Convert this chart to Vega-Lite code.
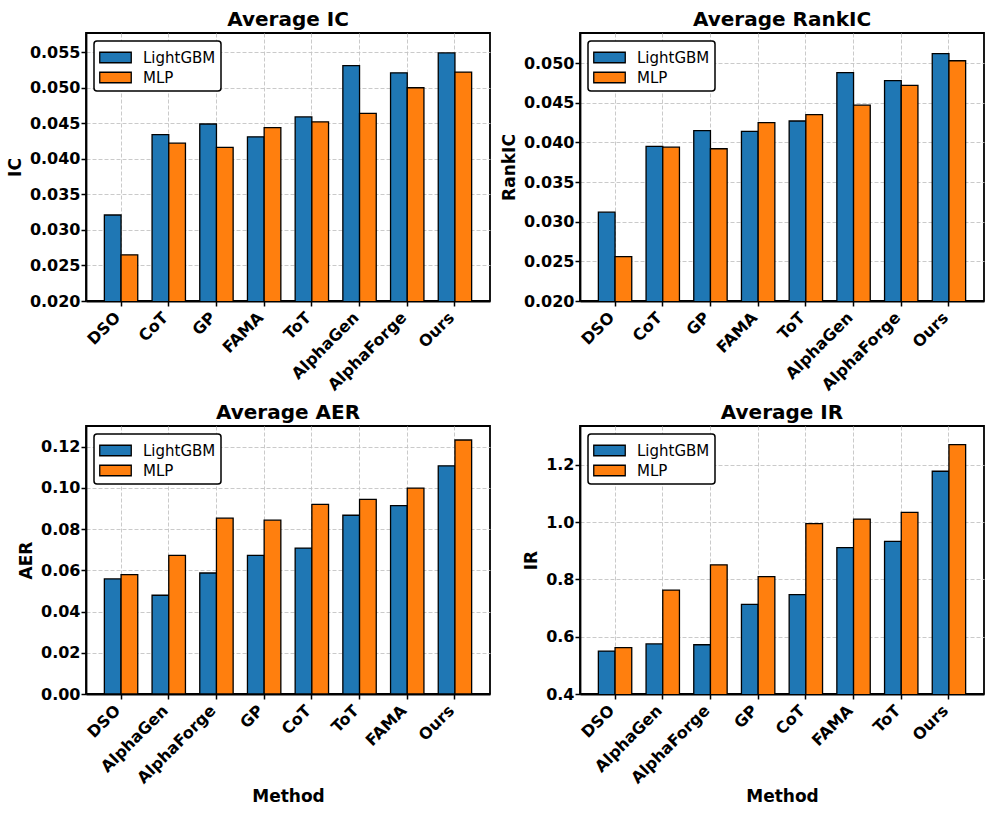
{
  "$schema": "https://vega.github.io/schema/vega-lite/v6.json",
  "padding": {"left": 5, "top": 9, "right": 4, "bottom": 8},
  "background": "white",
  "datasets": {
    "ic": [
      {"method": "DSO", "model": "LightGBM", "value": 0.0321}, {"method": "DSO", "model": "MLP", "value": 0.0265},
      {"method": "CoT", "model": "LightGBM", "value": 0.0434}, {"method": "CoT", "model": "MLP", "value": 0.0422},
      {"method": "GP", "model": "LightGBM", "value": 0.0449}, {"method": "GP", "model": "MLP", "value": 0.0416},
      {"method": "FAMA", "model": "LightGBM", "value": 0.0431}, {"method": "FAMA", "model": "MLP", "value": 0.0444},
      {"method": "ToT", "model": "LightGBM", "value": 0.0459}, {"method": "ToT", "model": "MLP", "value": 0.0452},
      {"method": "AlphaGen", "model": "LightGBM", "value": 0.0531}, {"method": "AlphaGen", "model": "MLP", "value": 0.0464},
      {"method": "AlphaForge", "model": "LightGBM", "value": 0.0521}, {"method": "AlphaForge", "model": "MLP", "value": 0.0500},
      {"method": "Ours", "model": "LightGBM", "value": 0.0549}, {"method": "Ours", "model": "MLP", "value": 0.0522}
    ],
    "rankic": [
      {"method": "DSO", "model": "LightGBM", "value": 0.0312}, {"method": "DSO", "model": "MLP", "value": 0.0256},
      {"method": "CoT", "model": "LightGBM", "value": 0.0395}, {"method": "CoT", "model": "MLP", "value": 0.0394},
      {"method": "GP", "model": "LightGBM", "value": 0.0415}, {"method": "GP", "model": "MLP", "value": 0.0392},
      {"method": "FAMA", "model": "LightGBM", "value": 0.0414}, {"method": "FAMA", "model": "MLP", "value": 0.0425},
      {"method": "ToT", "model": "LightGBM", "value": 0.0427}, {"method": "ToT", "model": "MLP", "value": 0.0435},
      {"method": "AlphaGen", "model": "LightGBM", "value": 0.0488}, {"method": "AlphaGen", "model": "MLP", "value": 0.0447},
      {"method": "AlphaForge", "model": "LightGBM", "value": 0.0478}, {"method": "AlphaForge", "model": "MLP", "value": 0.0472},
      {"method": "Ours", "model": "LightGBM", "value": 0.0512}, {"method": "Ours", "model": "MLP", "value": 0.0503}
    ],
    "aer": [
      {"method": "DSO", "model": "LightGBM", "value": 0.0558}, {"method": "DSO", "model": "MLP", "value": 0.0579},
      {"method": "AlphaGen", "model": "LightGBM", "value": 0.0479}, {"method": "AlphaGen", "model": "MLP", "value": 0.0672},
      {"method": "AlphaForge", "model": "LightGBM", "value": 0.0587}, {"method": "AlphaForge", "model": "MLP", "value": 0.0853},
      {"method": "GP", "model": "LightGBM", "value": 0.0672}, {"method": "GP", "model": "MLP", "value": 0.0843},
      {"method": "CoT", "model": "LightGBM", "value": 0.0708}, {"method": "CoT", "model": "MLP", "value": 0.0920},
      {"method": "ToT", "model": "LightGBM", "value": 0.0867}, {"method": "ToT", "model": "MLP", "value": 0.0944},
      {"method": "FAMA", "model": "LightGBM", "value": 0.0914}, {"method": "FAMA", "model": "MLP", "value": 0.0999},
      {"method": "Ours", "model": "LightGBM", "value": 0.1107}, {"method": "Ours", "model": "MLP", "value": 0.1232}
    ],
    "ir": [
      {"method": "DSO", "model": "LightGBM", "value": 0.550}, {"method": "DSO", "model": "MLP", "value": 0.562},
      {"method": "AlphaGen", "model": "LightGBM", "value": 0.575}, {"method": "AlphaGen", "model": "MLP", "value": 0.763},
      {"method": "AlphaForge", "model": "LightGBM", "value": 0.572}, {"method": "AlphaForge", "model": "MLP", "value": 0.851},
      {"method": "GP", "model": "LightGBM", "value": 0.713}, {"method": "GP", "model": "MLP", "value": 0.810},
      {"method": "CoT", "model": "LightGBM", "value": 0.747}, {"method": "CoT", "model": "MLP", "value": 0.995},
      {"method": "FAMA", "model": "LightGBM", "value": 0.911}, {"method": "FAMA", "model": "MLP", "value": 1.011},
      {"method": "ToT", "model": "LightGBM", "value": 0.933}, {"method": "ToT", "model": "MLP", "value": 1.034},
      {"method": "Ours", "model": "LightGBM", "value": 1.178}, {"method": "Ours", "model": "MLP", "value": 1.271}
    ]
  },
  "columns": 2,
  "spacing": {"column": 8, "row": 7},
  "resolve": {"scale": {"color": "independent", "x": "independent", "y": "independent"}, "legend": {"color": "independent"}},
  "concat": [
    {
      "width": 404, "height": 268,
      "title": "Average IC",
      "data": {"name": "ic"},
      "mark": {"type": "bar", "stroke": "black", "strokeWidth": 1.3, "clip": true},
      "encoding": {
        "x": {"field": "method", "type": "nominal", "sort": ["DSO", "CoT", "GP", "FAMA", "ToT", "AlphaGen", "AlphaForge", "Ours"], "title": null, "scale": {"paddingInner": 0.3, "paddingOuter": 0.385}},
        "xOffset": {"field": "model", "type": "nominal", "scale": {"paddingInner": 0, "paddingOuter": 0}},
        "y": {"field": "value", "type": "quantitative", "title": "IC", "scale": {"domain": [0.02, 0.0577], "nice": false, "zero": false}, "axis": {"values": [0.02, 0.025, 0.03, 0.035, 0.04, 0.045, 0.05, 0.055], "format": ".3f"}},
        "color": {"field": "model", "type": "nominal", "scale": {"domain": ["LightGBM", "MLP"], "range": ["#1f77b4", "#ff7f0e"]}, "legend": {"title": null}}
      }
    },
    {
      "width": 404, "height": 268,
      "title": "Average RankIC",
      "data": {"name": "rankic"},
      "mark": {"type": "bar", "stroke": "black", "strokeWidth": 1.3, "clip": true},
      "encoding": {
        "x": {"field": "method", "type": "nominal", "sort": ["DSO", "CoT", "GP", "FAMA", "ToT", "AlphaGen", "AlphaForge", "Ours"], "title": null, "scale": {"paddingInner": 0.3, "paddingOuter": 0.385}},
        "xOffset": {"field": "model", "type": "nominal", "scale": {"paddingInner": 0, "paddingOuter": 0}},
        "y": {"field": "value", "type": "quantitative", "title": "RankIC", "scale": {"domain": [0.02, 0.0538], "nice": false, "zero": false}, "axis": {"values": [0.02, 0.025, 0.03, 0.035, 0.04, 0.045, 0.05], "format": ".3f"}},
        "color": {"field": "model", "type": "nominal", "scale": {"domain": ["LightGBM", "MLP"], "range": ["#1f77b4", "#ff7f0e"]}, "legend": {"title": null}}
      }
    },
    {
      "width": 404, "height": 268,
      "title": "Average AER",
      "data": {"name": "aer"},
      "mark": {"type": "bar", "stroke": "black", "strokeWidth": 1.3, "clip": true},
      "encoding": {
        "x": {"field": "method", "type": "nominal", "sort": ["DSO", "AlphaGen", "AlphaForge", "GP", "CoT", "ToT", "FAMA", "Ours"], "title": "Method", "scale": {"paddingInner": 0.3, "paddingOuter": 0.385}},
        "xOffset": {"field": "model", "type": "nominal", "scale": {"paddingInner": 0, "paddingOuter": 0}},
        "y": {"field": "value", "type": "quantitative", "title": "AER", "scale": {"domain": [0, 0.13], "nice": false, "zero": false}, "axis": {"values": [0, 0.02, 0.04, 0.06, 0.08, 0.1, 0.12], "format": ".2f"}},
        "color": {"field": "model", "type": "nominal", "scale": {"domain": ["LightGBM", "MLP"], "range": ["#1f77b4", "#ff7f0e"]}, "legend": {"title": null}}
      }
    },
    {
      "width": 404, "height": 268,
      "title": "Average IR",
      "data": {"name": "ir"},
      "mark": {"type": "bar", "stroke": "black", "strokeWidth": 1.3, "clip": true},
      "encoding": {
        "x": {"field": "method", "type": "nominal", "sort": ["DSO", "AlphaGen", "AlphaForge", "GP", "CoT", "FAMA", "ToT", "Ours"], "title": "Method", "scale": {"paddingInner": 0.3, "paddingOuter": 0.385}},
        "xOffset": {"field": "model", "type": "nominal", "scale": {"paddingInner": 0, "paddingOuter": 0}},
        "y": {"field": "value", "type": "quantitative", "title": "IR", "scale": {"domain": [0.4, 1.336], "nice": false, "zero": false}, "axis": {"values": [0.4, 0.6, 0.8, 1.0, 1.2], "format": ".1f"}},
        "color": {"field": "model", "type": "nominal", "scale": {"domain": ["LightGBM", "MLP"], "range": ["#1f77b4", "#ff7f0e"]}, "legend": {"title": null}}
      }
    }
  ],
  "config": {
    "font": "DejaVu Sans",
    "view": {"stroke": "black", "strokeWidth": 1.8},
    "title": {"fontSize": 20, "fontWeight": "bold", "color": "black", "offset": 3, "anchor": "middle"},
    "axis": {
      "labelFont": "DejaVu Sans", "labelFontWeight": "bold", "labelColor": "black",
      "titleFont": "DejaVu Sans", "titleFontSize": 17, "titleFontWeight": "bold", "titleColor": "black",
      "domainColor": "black", "domainWidth": 1.8,
      "tickColor": "black", "tickWidth": 1.5, "tickSize": 5,
      "grid": true, "gridColor": "#c4c4c4", "gridDash": [4, 2], "gridWidth": 0.9,
      "labelOverlap": false
    },
    "axisX": {"labelAngle": -45, "labelAlign": "right", "labelBaseline": "top", "bandPosition": 0.5, "titlePadding": 2, "labelFontSize": 16, "labelOffset": -9, "labelPadding": 3},
    "axisY": {"titlePadding": 5, "labelFontSize": 16, "labelPadding": 1},
    "legend": {
      "orient": "top-left", "offset": 8,
      "fillColor": "white", "strokeColor": "black", "strokeWidth": 1.5, "cornerRadius": 3, "padding": 5,
      "labelFont": "DejaVu Sans", "labelFontSize": 15, "labelColor": "black", "labelFontWeight": "normal",
      "symbolType": "M-1.5,-0.5L1.5,-0.5L1.5,0.5L-1.5,0.5Z", "symbolSize": 441, "symbolOffset": 5,
      "symbolStrokeColor": "black", "symbolStrokeWidth": 1.3, "symbolOpacity": 1,
      "labelOffset": 16, "rowPadding": -1
    }
  }
}
